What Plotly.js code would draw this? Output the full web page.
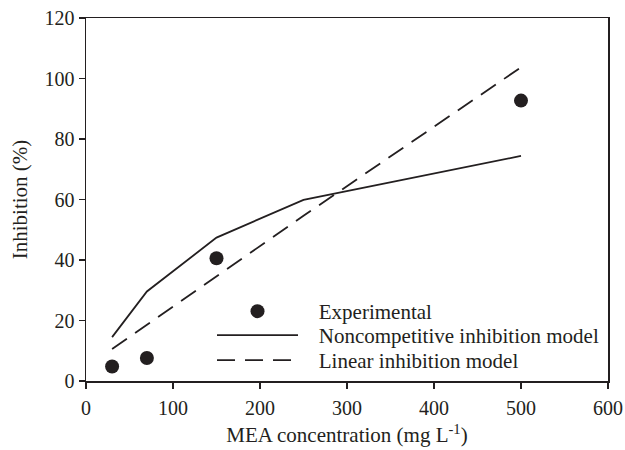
<!DOCTYPE html>
<html>
<head>
<meta charset="utf-8">
<script src="https://cdn.plot.ly/plotly-3.0.1.min.js"></script>
<style>html,body{margin:0;padding:0;background:#fff;}#chart{width:625px;height:450px;}</style>
</head>
<body>
<div id="chart"></div>
<script>
var expX = [30, 70, 150, 500];
var expY = [4.8, 7.6, 40.6, 92.7];
var modelX = [30, 70, 150, 250, 500];
var noncompY = [14.5, 29.6, 47.4, 59.9, 74.4];
var linearY = [10.6, 18.6, 34.6, 54.6, 103.7];
var xTicks = [0, 100, 200, 300, 400, 500, 600];
var yTicks = [0, 20, 40, 60, 80, 100, 120];
var seriesNames = ['Experimental', 'Noncompetitive inhibition model', 'Linear inhibition model'];

var ink = '#231f20';
var fam = '"Liberation Serif", "Times New Roman", serif';
var tickFont = {family: fam, size: 20, color: ink};
var bigFont = {family: fam, size: 21, color: ink};
var pad = '\u00a0\u00a0\u00a0';

var traces = [
  {x: expX, y: expY, mode: 'markers', type: 'scatter', name: pad + seriesNames[0], legend: 'legend',
   marker: {color: ink, size: 14}},
  {x: modelX, y: noncompY, mode: 'lines', type: 'scatter', name: pad + seriesNames[1], legend: 'legend2',
   line: {color: ink, width: 1.8}},
  {x: modelX, y: linearY, mode: 'lines', type: 'scatter', name: pad + seriesNames[2], legend: 'legend3',
   line: {color: ink, width: 1.8, dash: '18px,10px'}}
];

function leg(y) {
  return {x: 0.2414, y: y, xanchor: 'left', yanchor: 'top', bgcolor: 'rgba(0,0,0,0)',
          itemwidth: 81, font: bigFont, borderwidth: 0};
}

var layout = {
  width: 625, height: 450,
  margin: {l: 86, r: 17, t: 18, b: 69},
  paper_bgcolor: '#fff', plot_bgcolor: '#fff',
  font: tickFont,
  showlegend: true,
  legend: leg(0.248),
  legend2: leg(0.182),
  legend3: leg(0.113),
  xaxis: {range: [0, 600], tickvals: xTicks, ticktext: xTicks.map(String), tickfont: tickFont,
          showgrid: false, zeroline: false, showline: true, mirror: true, linecolor: ink, linewidth: 1.5,
          ticks: 'outside', ticklen: 6, tickwidth: 1.5, tickcolor: ink, ticklabelstandoff: 2,
          title: {text: 'MEA concentration (mg L<sup>-1</sup>)', font: bigFont, standoff: 10}},
  yaxis: {range: [0, 120], tickvals: yTicks, ticktext: yTicks.map(String), tickfont: tickFont,
          showgrid: false, zeroline: false, showline: true, mirror: true, linecolor: ink, linewidth: 1.5,
          ticks: 'outside', ticklen: 6, tickwidth: 1.5, tickcolor: ink,
          title: {text: 'Inhibition (%)', font: bigFont, standoff: 11}}
};

Plotly.newPlot('chart', traces, layout, {displayModeBar: false, staticPlot: true});
</script>
</body>
</html>
